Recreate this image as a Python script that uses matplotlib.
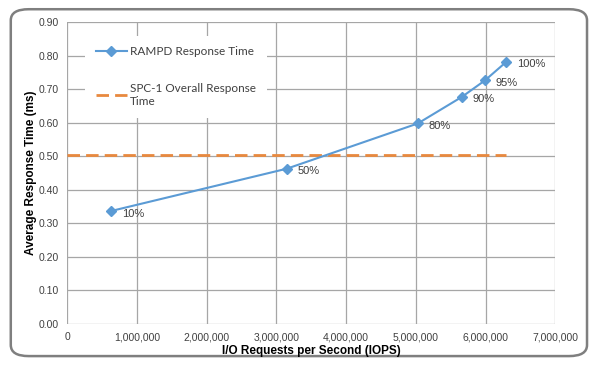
import matplotlib.pyplot as plt
from matplotlib.patches import FancyBboxPatch
from matplotlib.ticker import FuncFormatter

# data
iops = [634000, 3150000, 5030000, 5660000, 5990000, 6300000]
resp = [0.337, 0.463, 0.598, 0.677, 0.726, 0.782]
pct = ["10%", "50%", "80%", "90%", "95%", "100%"]
spc1_x = [0, 6300000]
spc1_y = [0.505, 0.505]

blue = "#5b9bd5"
orange = "#e8893f"

fig = plt.figure(figsize=(5.99, 3.69), dpi=100)
frame = FancyBboxPatch((0.018, 0.035), 0.962, 0.94, boxstyle="round,pad=0,rounding_size=0.03",
                       transform=fig.transFigure, facecolor="white", edgecolor="#7f7f7f",
                       linewidth=1.8, zorder=-10)
fig.patches.append(frame)

ax = fig.add_axes([0.112, 0.122, 0.815, 0.818])
ax.set_facecolor("none")

ax.plot(iops, resp, color=blue, lw=1.5, marker="D", ms=5, label="RAMPD Response Time", zorder=3)
ax.plot(spc1_x, spc1_y, color=orange, lw=2, dashes=(4.5, 2.2),
        label="SPC-1 Overall Response\nTime", zorder=2)
for x, y, t in zip(iops, resp, pct):
    ax.annotate(t, (x, y), xytext=(8, -4), textcoords="offset points",
                fontsize=8, color="#404040", family="Liberation Sans")

ax.set_xlim(0, 7000000)
ax.set_ylim(0, 0.9)
ax.set_xticks(range(0, 7000001, 1000000))
ax.set_yticks([i / 10 for i in range(10)])
ax.xaxis.set_major_formatter(FuncFormatter(lambda v, p: f"{int(v):,}"))
ax.yaxis.set_major_formatter(FuncFormatter(lambda v, p: f"{v:.2f}"))
ax.grid(True, color="#a6a6a6", lw=0.9)
ax.set_axisbelow(True)
for s in ax.spines.values():
    s.set_visible(False)
ax.tick_params(length=0, labelsize=7.5, labelcolor="#404040", pad=6)
for lab in ax.get_xticklabels() + ax.get_yticklabels():
    lab.set_family("Liberation Sans")

ax.set_xlabel("I/O Requests per Second (IOPS)", fontsize=8.5, fontweight="bold",
              family="Liberation Sans", labelpad=2)
ax.set_ylabel("Average Response Time (ms)", fontsize=8.5, fontweight="bold",
              family="Liberation Sans", labelpad=1)

leg = ax.legend(loc="upper left", bbox_to_anchor=(0.025, 0.975), frameon=True, fancybox=False,
                edgecolor="none", framealpha=1, handlelength=2.6, handletextpad=0.3,
                labelspacing=2.2, borderpad=0.9, prop={"family": "Lato", "size": 8.5})
for t in leg.get_texts():
    t.set_color("#404040")

fig.savefig("out.png", dpi=100)
